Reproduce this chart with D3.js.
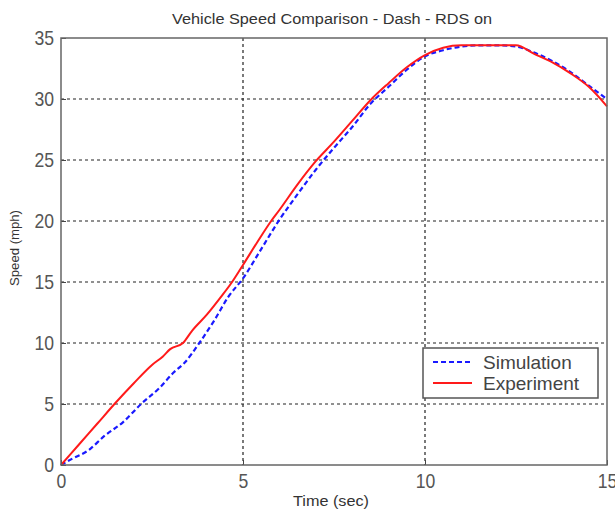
<!DOCTYPE html>
<html>
<head>
<meta charset="utf-8">
<script src="https://cdn.jsdelivr.net/npm/d3@7"></script>
<style>
  html, body { margin: 0; padding: 0; background: #fff; }
  svg { display: block; }
</style>
</head>
<body>
<svg id="chart" width="615" height="514"></svg>
<script>
// Simulation run (time in seconds, speed in mph)
const simTime  = [0, 0.3, 0.75, 1.2, 1.7, 2.2, 2.7, 3.1, 3.4, 3.8, 4.2, 4.6, 5.0, 5.5, 6.0, 6.5, 7.0, 7.5, 8.0, 8.5, 9.0, 9.5, 10.0, 10.5, 11.0, 11.5, 12.0, 12.5, 13.0, 13.5, 14.0, 14.5, 15.0];
const simSpeed = [0, 0.5, 1.2, 2.4, 3.5, 5.0, 6.3, 7.6, 8.4, 10.0, 11.8, 13.8, 15.3, 17.7, 20.1, 22.2, 24.2, 26.0, 27.7, 29.6, 31.0, 32.4, 33.5, 34.0, 34.3, 34.4, 34.4, 34.3, 33.8, 33.1, 32.2, 31.1, 30.0];

// Measured run
const expTime  = [0, 0.5, 1.0, 1.5, 2.0, 2.5, 2.8, 3.0, 3.35, 3.6, 4.0, 4.4, 4.7, 5.0, 5.4, 5.75, 6.0, 6.5, 7.0, 7.5, 8.0, 8.5, 9.0, 9.5, 10.0, 10.5, 11.0, 12.5, 13.0, 13.5, 14.0, 14.5, 15.0];
const expSpeed = [0, 1.7, 3.4, 5.1, 6.7, 8.2, 8.9, 9.5, 10.0, 11.0, 12.3, 13.8, 15.0, 16.4, 18.3, 19.9, 20.9, 23.0, 24.9, 26.5, 28.2, 29.9, 31.3, 32.6, 33.6, 34.2, 34.4, 34.4, 33.7, 33.0, 32.1, 31.0, 29.4];

const xTicks = [0, 5, 10, 15];
const yTicks = [0, 5, 10, 15, 20, 25, 30, 35];
const seriesNames = ["Simulation", "Experiment"];

const svg = d3.select("#chart");
const plot = { left: 61, right: 607, top: 38, bottom: 465 };
const font = "Liberation Sans, Arial, sans-serif";

const x = d3.scaleLinear().domain([0, 15]).range([plot.left, plot.right]);
const y = d3.scaleLinear().domain([0, 35]).range([plot.bottom, plot.top]);

// Dotted grid
const grid = svg.append("g").attr("stroke", "#222").attr("stroke-width", 1.2)
  .attr("stroke-dasharray", "3,3");
grid.selectAll("line.gx").data(xTicks.slice(1, -1)).join("line").attr("class", "gx")
  .attr("x1", d => x(d)).attr("x2", d => x(d)).attr("y1", plot.top).attr("y2", plot.bottom);
grid.selectAll("line.gy").data(yTicks.slice(1, -1)).join("line").attr("class", "gy")
  .attr("x1", plot.left).attr("x2", plot.right).attr("y1", d => y(d)).attr("y2", d => y(d));

// Series lines
const line = d3.line().curve(d3.curveMonotoneX).x(d => x(d[0])).y(d => y(d[1]));
const simData = simTime.map((t, i) => [t, simSpeed[i]]);
const expData = expTime.map((t, i) => [t, expSpeed[i]]);

svg.append("path").datum(simData).attr("d", line)
  .attr("fill", "none").attr("stroke", "#1a1aff").attr("stroke-width", 2.2)
  .attr("stroke-dasharray", "5,3");
svg.append("path").datum(expData).attr("d", line)
  .attr("fill", "none").attr("stroke", "#ff1a1a").attr("stroke-width", 2);

// Axes with inward ticks
const xAxis = d3.axisBottom(x).tickValues(xTicks).tickSize(-5).tickPadding(9).tickFormat(d3.format("d"));
const yAxis = d3.axisLeft(y).tickValues(yTicks).tickSize(-5).tickPadding(8).tickFormat(d3.format("d"));

const gx = svg.append("g").attr("transform", `translate(0,${plot.bottom})`).call(xAxis);
const gy = svg.append("g").attr("transform", `translate(${plot.left},0)`).call(yAxis);
[gx, gy].forEach(g => {
  g.select(".domain").remove();
  g.selectAll(".tick line").attr("stroke", "#444");
  g.selectAll(".tick text").attr("font-family", font).attr("font-size", 20)
    .attr("fill", "#555").attr("transform", "scale(0.88,1)");
});

// Frame
svg.append("rect").attr("x", plot.left).attr("y", plot.top)
  .attr("width", plot.right - plot.left).attr("height", plot.bottom - plot.top)
  .attr("fill", "none").attr("stroke", "#666").attr("stroke-width", 1.5);

// Title and axis labels
svg.append("text").attr("x", 332).attr("y", 24).attr("text-anchor", "middle")
  .attr("font-family", font).attr("font-size", 14).attr("fill", "#333")
  .attr("textLength", 320).attr("lengthAdjust", "spacingAndGlyphs")
  .text("Vehicle Speed Comparison - Dash - RDS on");
svg.append("text").attr("x", 331).attr("y", 506).attr("text-anchor", "middle")
  .attr("font-family", font).attr("font-size", 14).attr("fill", "#333")
  .attr("textLength", 76).attr("lengthAdjust", "spacingAndGlyphs")
  .text("Time (sec)");
svg.append("text").attr("transform", "translate(19,248) rotate(-90)")
  .attr("text-anchor", "middle")
  .attr("font-family", font).attr("font-size", 13.5).attr("fill", "#333")
  .attr("textLength", 76).attr("lengthAdjust", "spacingAndGlyphs")
  .text("Speed (mph)");

// Legend
const lg = svg.append("g");
lg.append("rect").attr("x", 423).attr("y", 348).attr("width", 175).attr("height", 50)
  .attr("fill", "#fff").attr("stroke", "#555").attr("stroke-width", 1.5);
const legendStyles = [
  { color: "#1a1aff", dash: "5,3" },
  { color: "#ff1a1a", dash: null }
];
seriesNames.forEach((name, i) => {
  const yy = 362 + i * 21;
  lg.append("line").attr("x1", 433).attr("x2", 472).attr("y1", yy).attr("y2", yy)
    .attr("stroke", legendStyles[i].color).attr("stroke-width", 2)
    .attr("stroke-dasharray", legendStyles[i].dash);
  lg.append("text").attr("x", 483).attr("y", yy + 7)
    .attr("font-family", font).attr("font-size", 19).attr("fill", "#444")
    .text(name);
});
</script>
</body>
</html>
